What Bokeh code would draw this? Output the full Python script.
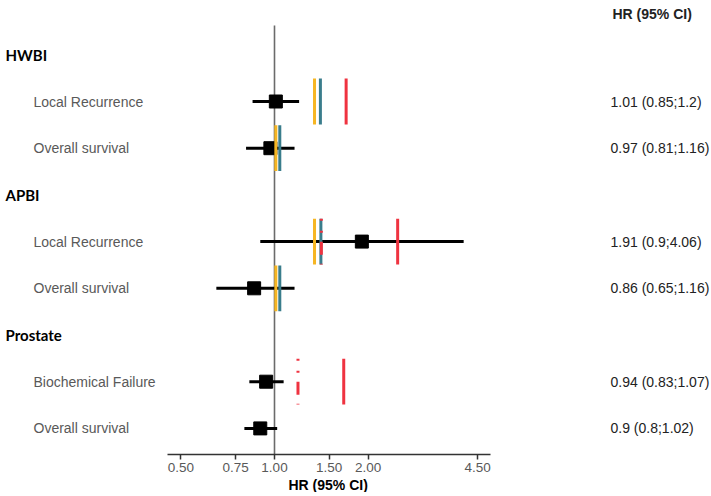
import math
from bokeh.plotting import figure
from bokeh.models import Range1d, FixedTicker, PrintfTickFormatter, ColumnDataSource, LabelSet, Label, Title
from bokeh.core.properties import value
from bokeh.embed import file_html
from bokeh.resources import INLINE

# ---------------- data ----------------
row_labels = ["HWBI", "Local Recurrence", "Overall survival",
              "APBI", "Local Recurrence", "Overall survival",
              "Prostate", "Biochemical Failure", "Overall survival"]
row_is_header = [1, 0, 0, 1, 0, 0, 1, 0, 0]

est_rows = [1, 2, 4, 5, 7, 8]
hr = [1.01, 0.97, 1.91, 0.86, 0.94, 0.90]
ci_low = [0.85, 0.81, 0.90, 0.65, 0.83, 0.80]
ci_high = [1.20, 1.16, 4.06, 1.16, 1.07, 1.02]
ci_text = ["1.01 (0.85;1.2)", "0.97 (0.81;1.16)", "1.91 (0.9;4.06)",
           "0.86 (0.65;1.16)", "0.94 (0.83;1.07)", "0.9 (0.8;1.02)"]

# margin lines
yellow_rows = [1, 2, 4, 5]
yellow_vals = [1.345, 1.01, 1.345, 1.01]
teal_rows = [1, 2, 4, 5]
teal_vals = [1.405, 1.04, 1.41, 1.04]
red_rows = [1, 4, 7]
red_vals = [1.70, 2.49, 1.67]
red_dash_rows = [4, 7]
red_dash_vals = [1.415, 1.19]

ref_value = 1.0
x_ticks = [0.5, 0.75, 1.0, 1.5, 2.0, 4.5]
axis_bounds = (0.4527, 4.953)
axis_title = "HR (95% CI)"
col_title = "HR (95% CI)"

# ---------------- layout ----------------
FW, FH = 711, 454          # frame size (px)
PX_ONE, PX_PER_LN = 274.0, 135.0   # screen x of HR=1 and px per ln unit
x_lo = math.exp((0 - PX_ONE) / PX_PER_LN)
x_hi = math.exp((FW - PX_ONE) / PX_PER_LN)
ROW0_PX, ROW_STEP = 54.3, 46.7
y_top = (0 - ROW0_PX) / ROW_STEP
y_bot = (FH - ROW0_PX) / ROW_STEP

p = figure(frame_width=FW, frame_height=FH, x_axis_type="log",
           x_range=Range1d(x_lo, x_hi), y_range=Range1d(y_bot, y_top),
           output_backend="svg", toolbar_location=None,
           min_border_left=0, min_border_right=0,
           min_border_top=0, min_border_bottom=0,
           y_axis_location=None)
p.outline_line_color = None
p.grid.visible = False
p.background_fill_color = "white"

half = 0.49

# reference line
p.segment(x0=[ref_value], y0=[(25 - ROW0_PX) / ROW_STEP], x1=[ref_value], y1=[y_bot],
          line_color="#6b6b6b", line_width=1.6)

# CI lines and estimates
p.segment(x0=ci_low, y0=est_rows, x1=ci_high, y1=est_rows,
          line_color="black", line_width=3)
p.scatter(x=hr, y=est_rows, marker="square", size=13,
          fill_color="black", line_color="black")

# margin lines
p.segment(x0=yellow_vals, y0=[r - half for r in yellow_rows],
          x1=yellow_vals, y1=[r + half for r in yellow_rows],
          line_color="#F6B623", line_width=3)
p.segment(x0=teal_vals, y0=[r - half for r in teal_rows],
          x1=teal_vals, y1=[r + half for r in teal_rows],
          line_color="#3A7D8C", line_width=3)
p.segment(x0=red_vals, y0=[r - half for r in red_rows],
          x1=red_vals, y1=[r + half for r in red_rows],
          line_color="#EF3340", line_width=3)
p.segment(x0=red_dash_vals, y0=[r - half for r in red_dash_rows],
          x1=red_dash_vals, y1=[r + half for r in red_dash_rows],
          line_color="#EF3340", line_width=3, line_dash="2 10 2 9 13 9")

# x axis
ax = p.xaxis[0]
ax.bounds = axis_bounds
ax.ticker = FixedTicker(ticks=x_ticks, minor_ticks=[])
ax.formatter = PrintfTickFormatter(format="%.2f")
ax.axis_line_color = "#333333"
ax.axis_line_width = 1.5
ax.major_tick_line_color = "#333333"
ax.major_tick_line_width = 1.5
ax.major_tick_out = 5
ax.major_tick_in = 0
ax.minor_tick_out = 0
ax.minor_tick_in = 0
ax.major_label_standoff = 3
ax.major_label_text_font = "Liberation Sans"
ax.major_label_text_font_size = "13.5px"
ax.major_label_text_color = "#595959"

# axis title (below the axis, left edge at 288 px)
p.add_layout(Title(text=axis_title, align="left", offset=288, standoff=0,
                   text_font="Liberation Sans", text_font_style="bold",
                   text_font_size="14px", text_color="black"), "below")

# left labels
hdr_src = ColumnDataSource(dict(
    x=[5 for h in row_is_header if h],
    y=[i for i, h in enumerate(row_is_header) if h],
    t=[l for l, h in zip(row_labels, row_is_header) if h]))
itm_src = ColumnDataSource(dict(
    x=[33 for h in row_is_header if not h],
    y=[i for i, h in enumerate(row_is_header) if not h],
    t=[l for l, h in zip(row_labels, row_is_header) if not h]))
p.add_layout(LabelSet(x="x", y="y", text="t", source=hdr_src, x_units="screen",
                      text_font=value("Lato"), text_font_style=value("bold"),
                      text_font_size=value("15px"),
                      text_color=value("black"), text_baseline=value("middle"),
                      text_align=value("left")))
p.add_layout(LabelSet(x="x", y="y", text="t", source=itm_src, x_units="screen",
                      text_font=value("Liberation Sans"), text_font_size=value("14px"),
                      text_color=value("#595959"), text_baseline=value("middle"),
                      text_align=value("left")))

# right column
val_src = ColumnDataSource(dict(x=[610] * len(est_rows), y=est_rows, t=ci_text))
p.add_layout(LabelSet(x="x", y="y", text="t", source=val_src, x_units="screen",
                      text_font=value("Liberation Sans"), text_font_size=value("14px"),
                      text_color=value("#222222"), text_baseline=value("middle"),
                      text_align=value("left")))
p.add_layout(Label(x=612, y=(13 - ROW0_PX) / ROW_STEP, x_units="screen", text=col_title,
                   text_font="Liberation Sans", text_font_style="bold",
                   text_font_size="14px", text_color="#222222",
                   text_baseline="middle", text_align="left"))

open("out.html", "w").write(file_html(p, INLINE))
